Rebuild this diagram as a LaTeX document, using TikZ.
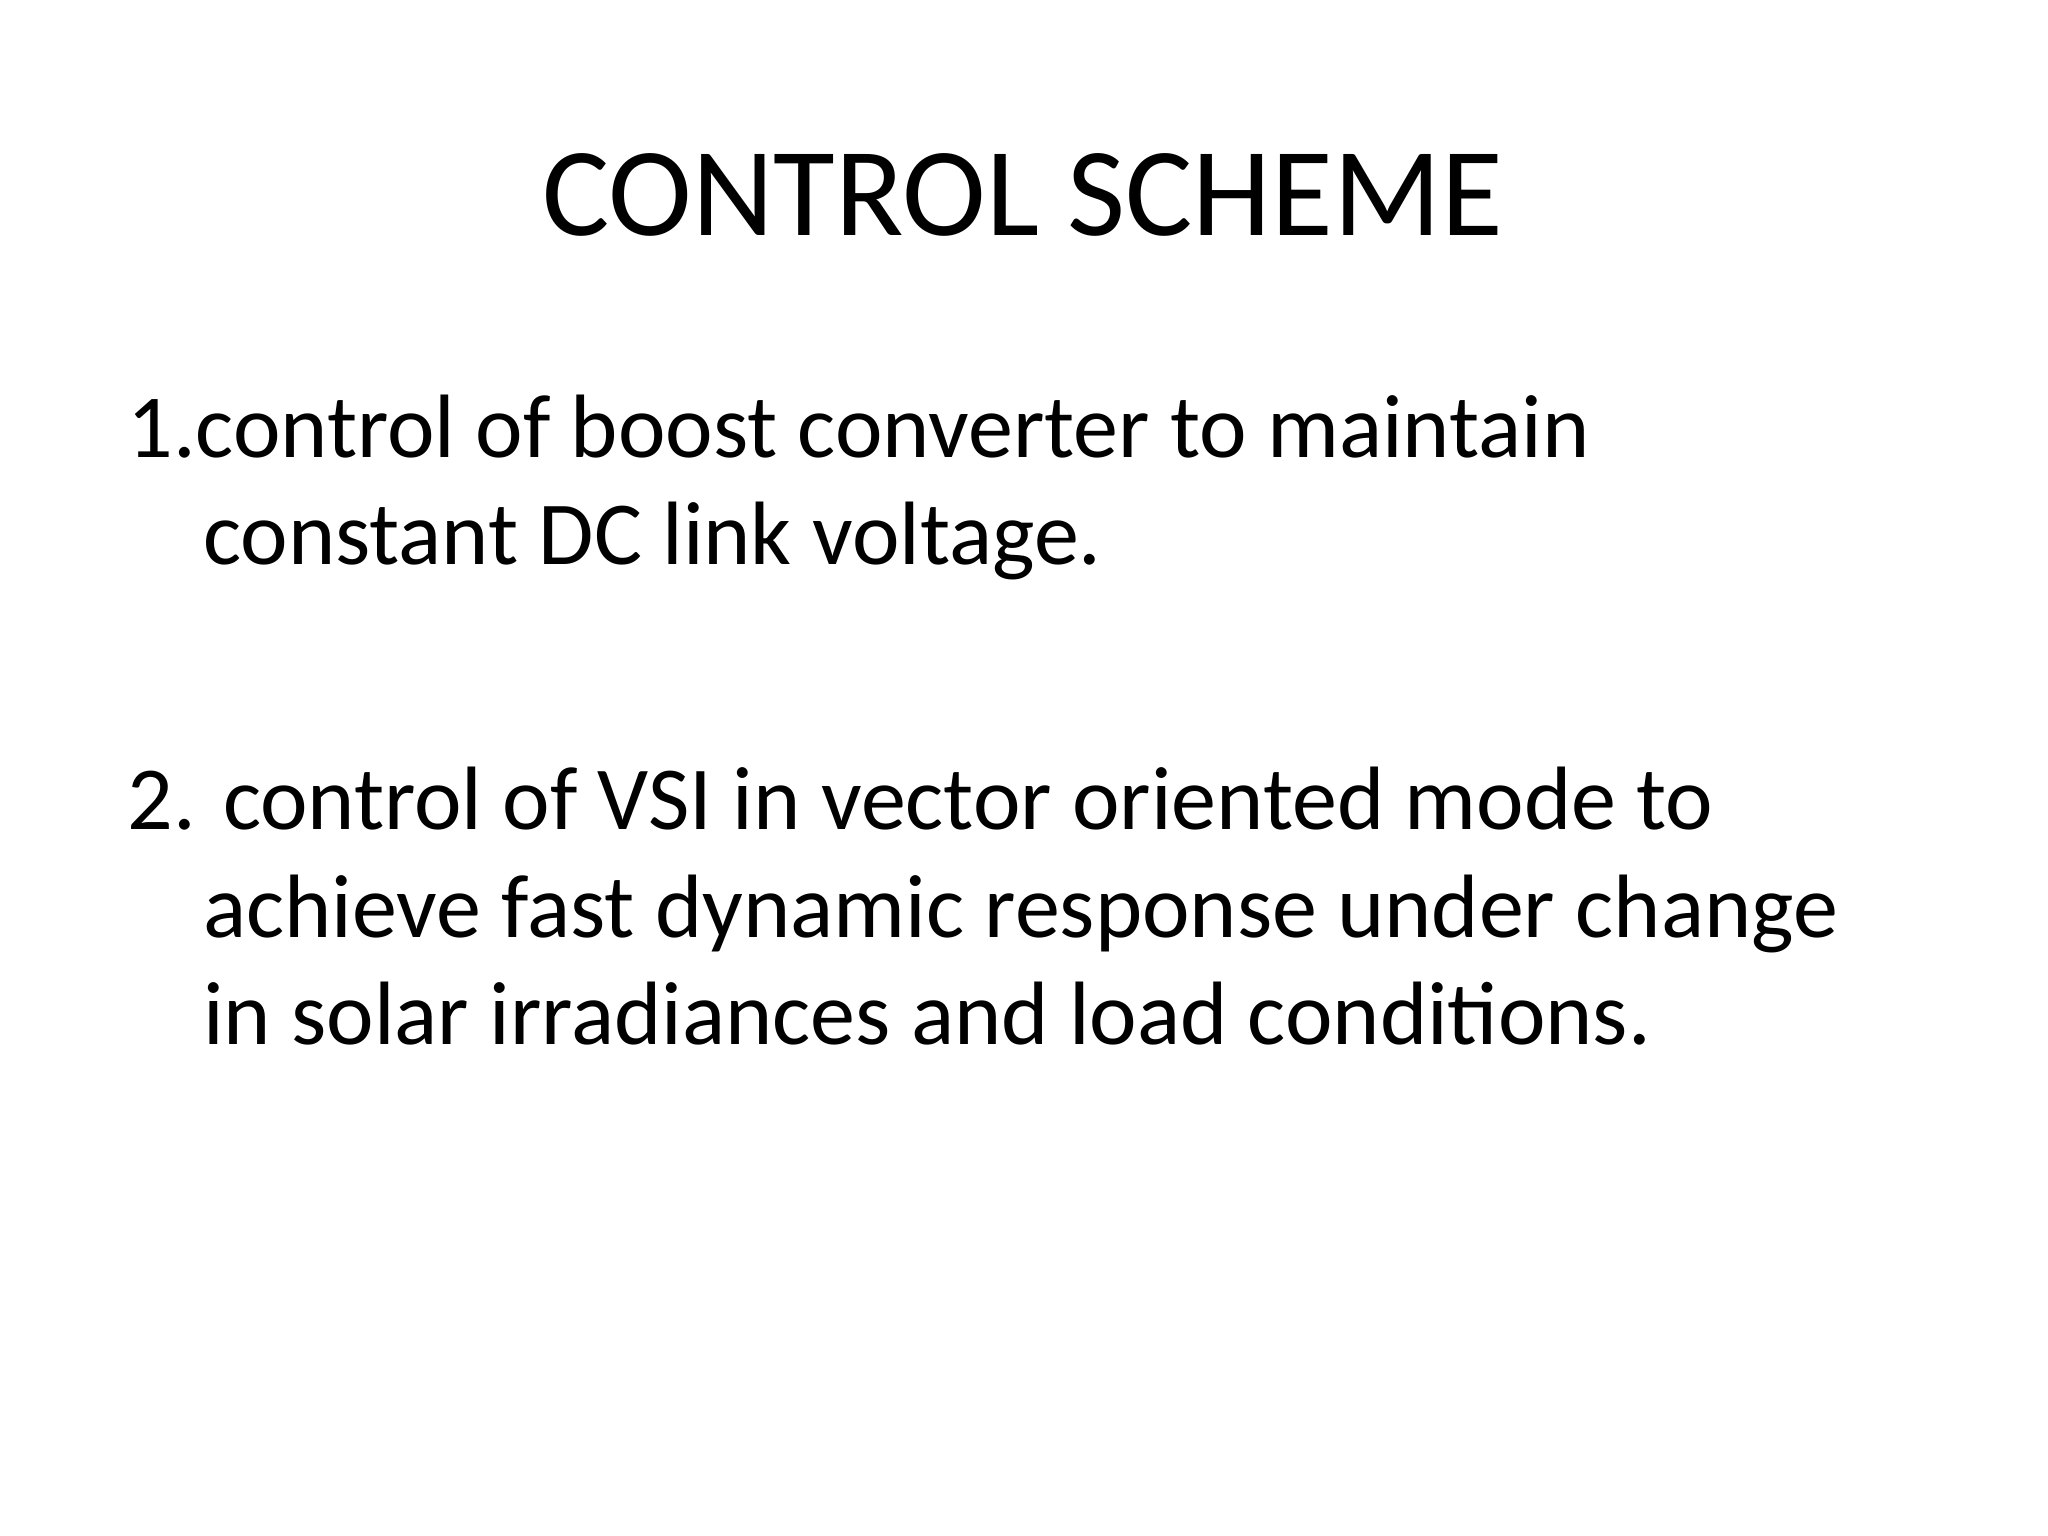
\documentclass[tikz,border=0pt]{standalone}
\usepackage{fontspec}
\setmainfont{Carlito}
\begin{document}
\begin{tikzpicture}[x=0.01cm,y=-0.01cm,
  title/.style={font=\fontsize{27.5}{33}\selectfont,anchor=base,inner sep=0},
  body/.style={font=\fontsize{19.6}{24}\selectfont,anchor=base west,inner sep=0}]
\useasboundingbox (0,0) rectangle (1568,1176);
\node[title] (t) at (783,180) {CONTROL SCHEME};
\node[body] (a1) at (97,350) {1.control of boost converter to maintain};
\node[body] (a2) at (155,432) {constant DC link voltage.};
\node[body] (b1) at (97,635) {2. control of VSI in vector oriented mode to};
\node[body] (b2) at (155,718) {achieve fast dynamic response under change};
\node[body] (b3) at (155,800) {in solar irradiances and load conditions.};
\end{tikzpicture}
\end{document}
